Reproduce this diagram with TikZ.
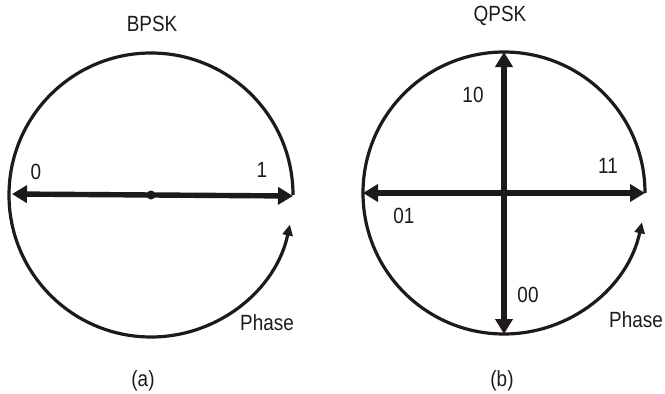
\documentclass[tikz,border=0pt]{standalone}
\usepackage{fontspec}
\setmainfont{Liberation Sans}[FakeStretch=0.86]
\usetikzlibrary{arrows.meta}
\begin{document}
\begin{tikzpicture}[x=1pt,y=-1pt,
  circ/.style={line width=3.2pt,draw={rgb,255:red,30;green,26;blue,27}},
  vec/.style={line width=5.4pt,draw={rgb,255:red,30;green,26;blue,27},{Triangle[length=15pt,width=17pt]}-{Triangle[length=15pt,width=17pt]}},
  onevec/.style={line width=5.4pt,draw={rgb,255:red,30;green,26;blue,27},-{Triangle[length=15pt,width=17pt]}},
  phasearr/.style={-{Triangle[length=11pt,width=10pt]}},
  lbl/.style={font=\fontsize{22}{25}\selectfont,text={rgb,255:red,30;green,26;blue,27},inner sep=0pt},
  dotc/.style={circle,fill={rgb,255:red,30;green,26;blue,27},inner sep=0pt,minimum size=9pt}]
\useasboundingbox (0,0) rectangle (665,394);
% ---- (a) BPSK ----
\coordinate (ca) at (151,195);
\coordinate (al) at (12,194);
\coordinate (ar) at (293,196);
\draw[circ,phasearr] (ca) ++(0:142) arc[start angle=0,end angle=-348,radius=142];
\draw[vec] (al) -- (ar);
\node[dotc] (da) at (ca) {};
\node[lbl] (ta) at (152,24) {BPSK};
\node[lbl] (l0) at (36,172) {0};
\node[lbl] (l1) at (262,170) {1};
\node[lbl] (pa) at (267,323) {Phase};
\node[lbl] (na) at (143,381) {(a)};
% ---- (b) QPSK ----
\coordinate (cb) at (504,193);
\coordinate (bl) at (363,193);
\coordinate (br) at (645,193);
\coordinate (bt) at (504,52);
\coordinate (bb) at (504,334);
\draw[circ,phasearr] (cb) ++(0:141) arc[start angle=0,end angle=-348,radius=141];
\draw[vec] (bl) -- (br);
\draw[onevec] (cb) -- (bt);
\draw[onevec] (cb) -- (bb);
\node[dotc] (db) at (cb) {};
\node[lbl] (tb) at (500,16) {QPSK};
\node[lbl] (l10) at (473,95) {10};
\node[lbl] (l11) at (608,166) {11};
\node[lbl] (l01) at (404,216) {01};
\node[lbl] (l00) at (528,295) {00};
\node[lbl] (pb) at (636,320) {Phase};
\node[lbl] (nb) at (502,381) {(b)};
\end{tikzpicture}
\end{document}
